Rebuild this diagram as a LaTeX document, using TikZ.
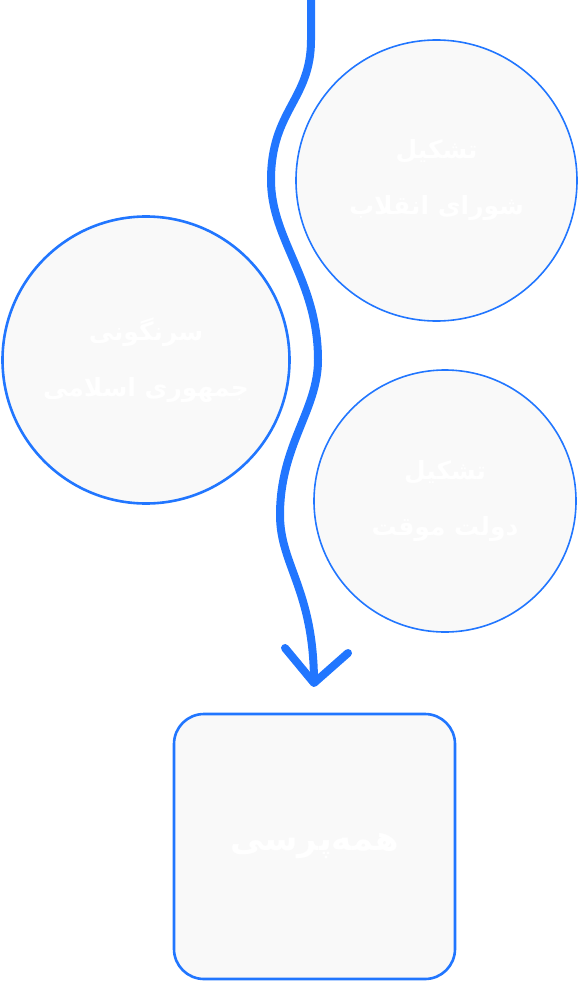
\documentclass[tikz,border=0pt]{standalone}
\usepackage{fontspec}
\newfontfamily\arabicfont[Script=Arabic]{DejaVu Sans}
\TeXXeTstate=1
\definecolor{flowblue}{HTML}{2176FF}
\definecolor{nodefill}{HTML}{F9F9F9}
\tikzset{
  bubble/.style={circle, draw=flowblue, fill=nodefill, line width=1.6pt,
    text=white, align=center, inner sep=0pt,
    font=\arabicfont\bfseries\fontsize{25}{56}\selectfont},
  endbox/.style={draw=flowblue, fill=nodefill, line width=2.6pt, rounded corners=30pt,
    text=white, minimum width=281pt, minimum height=265pt,
    font=\arabicfont\bfseries\fontsize{34}{40}\selectfont},
  flow/.style={draw=flowblue, line width=8pt, line cap=round, line join=round}
}
\begin{document}
\begin{tikzpicture}[x=1pt,y=-1pt]
\useasboundingbox (0,0) rectangle (578,982);
\node[bubble, minimum size=281pt] (shura) at (436.5,180.5) {\beginR تشکیل\endR\\\beginR شورای انقلاب\endR};
\node[bubble, minimum size=287pt, line width=2.6pt] (sarnegouni) at (146,360) {\beginR سرنگونی\endR\\\beginR جمهوری اسلامی\endR};
\node[bubble, minimum size=262pt] (dowlat) at (445,501) {\beginR تشکیل\endR\\\beginR دولت موقت\endR};
\node[endbox] (hamehporsi) at (314.5,846.5) {\raisebox{-7pt}{\beginR همه^^^^200cپرسی\endR}};
\coordinate (top) at (311,-10);
\coordinate (tip) at (314,683);
\draw[flow, line cap=butt] (top) -- (311,40)
  .. controls (311,100) and (271,110) .. (271,180)
  .. controls (271,240) and (318,280) .. (318,360)
  .. controls (318,410) and (280,445) .. (280,515)
  .. controls (280,565) and (314,590) .. (tip);
\draw[flow] ([shift={(-29,-35)}]tip) -- (tip) -- ([shift={(34,-30)}]tip);
\end{tikzpicture}
\end{document}
